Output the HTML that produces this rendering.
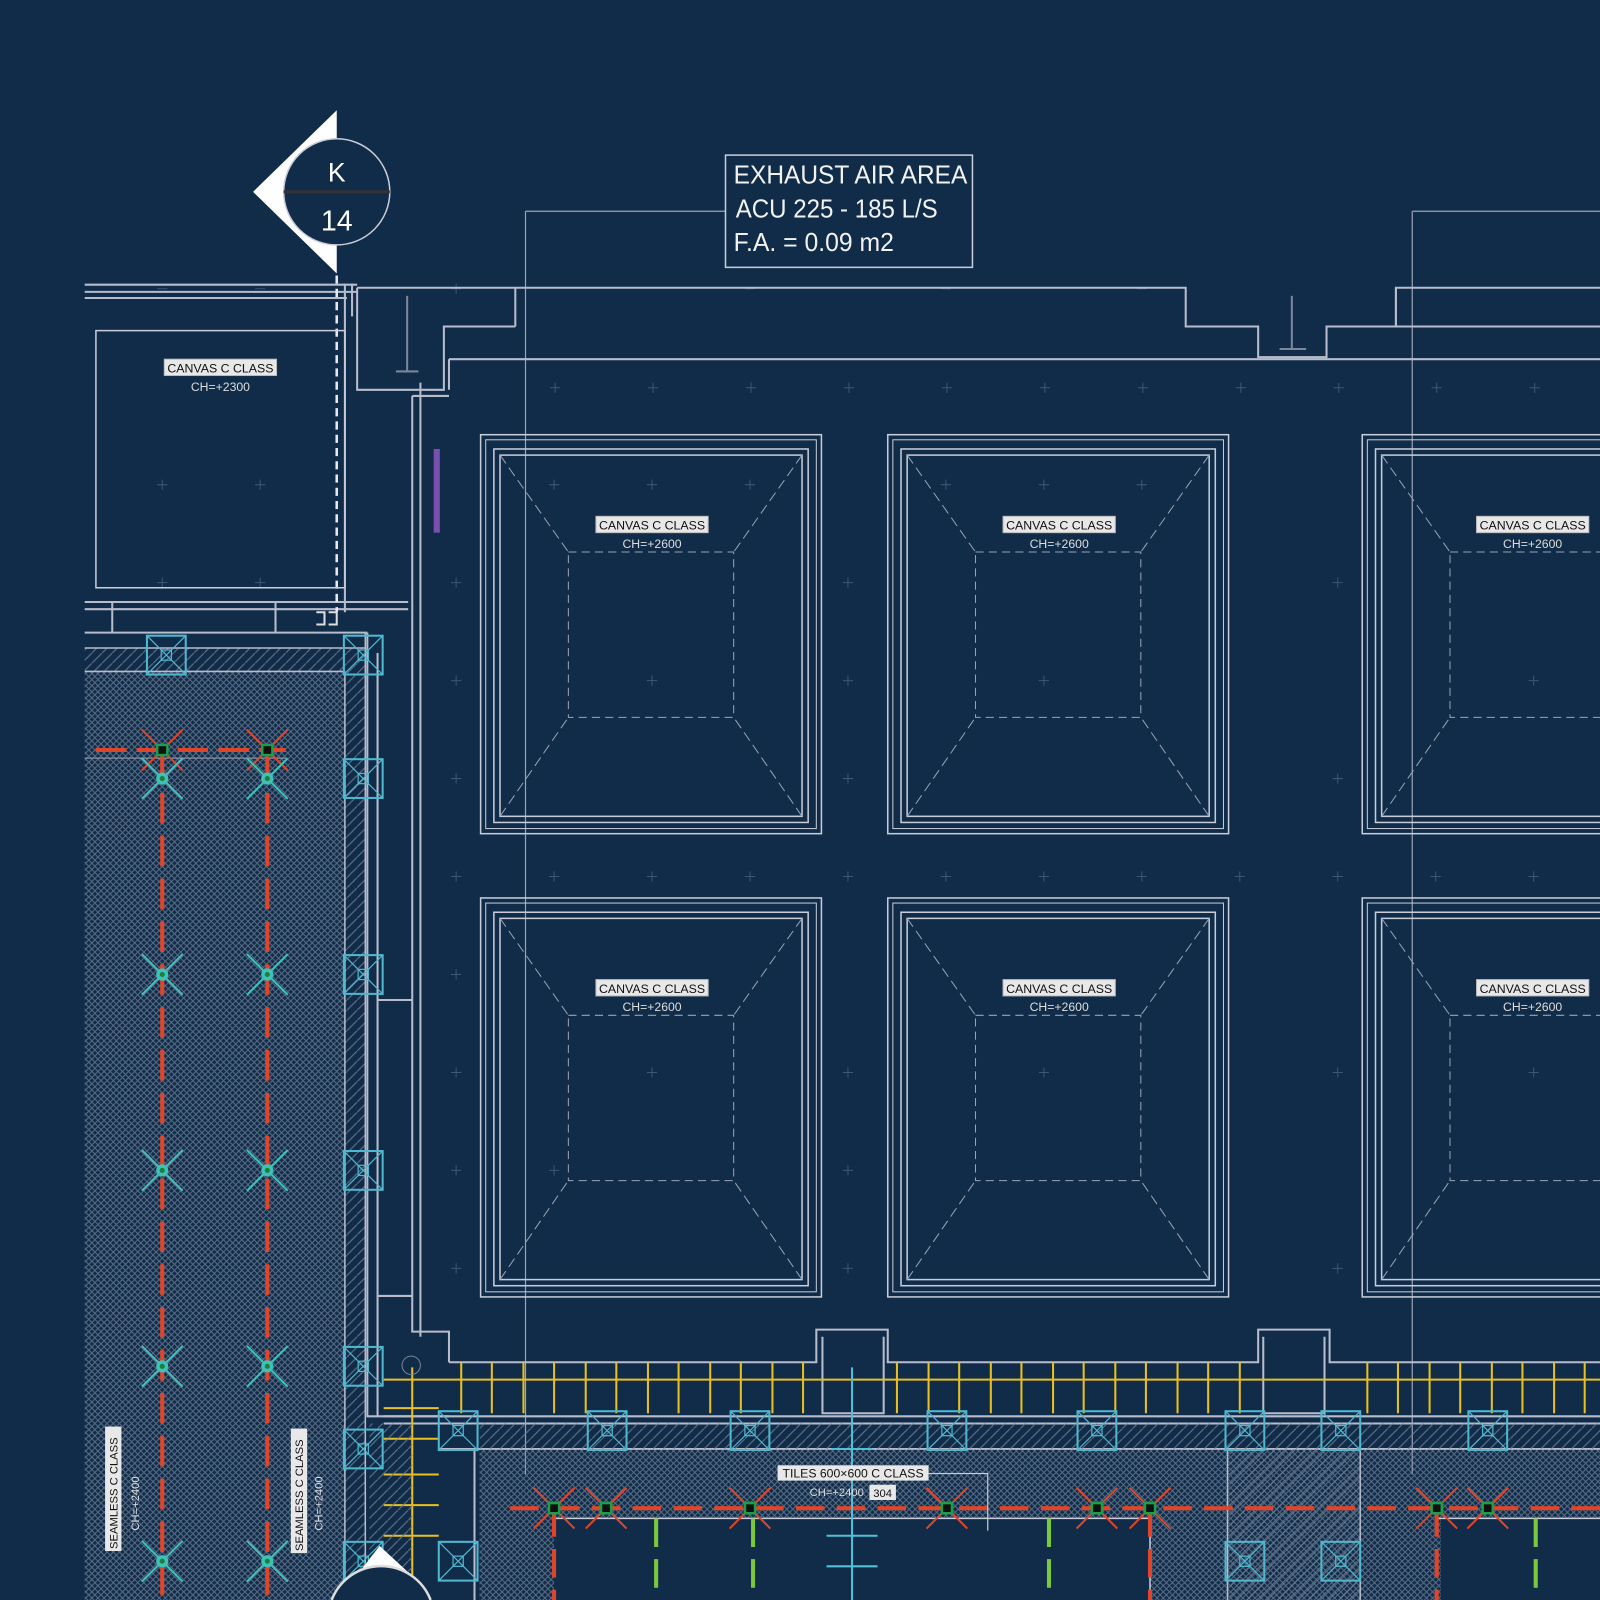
<!DOCTYPE html>
<html><head><meta charset="utf-8"><style>
html,body{margin:0;padding:0;background:#102c49;}
svg{display:block}
text{font-family:"Liberation Sans Narrow","Liberation Sans",sans-serif;}
</style></head><body>
<svg width="1600" height="1600" viewBox="0 0 1568 1568" xmlns="http://www.w3.org/2000/svg">
<defs>
<pattern id="xh" width="6" height="6" patternUnits="userSpaceOnUse">
<path d="M0 0L6 6M6 0L0 6" stroke="#74839a" stroke-width="1" opacity="0.75"/>
</pattern>
<pattern id="dh" width="10" height="10" patternUnits="userSpaceOnUse">
<path d="M0 10L10 0" stroke="#6f7e94" stroke-width="1.2" opacity="0.8"/>
</pattern>
<g id="panel" fill="none" stroke="#c8ccd8">
<rect x="0" y="0" width="334" height="391" stroke-width="1.5"/>
<rect x="5" y="5" width="324" height="381" stroke-width="1"/>
<rect x="13" y="14" width="308" height="366" stroke-width="1.5"/>
<rect x="19" y="20" width="296" height="354" stroke-width="1.5"/>
<rect x="86" y="115" width="162" height="162" stroke="#9aa2b4" stroke-dasharray="8 5"/>
<path d="M19 20L86 115M315 20L248 115M19 374L86 277M315 374L248 277" stroke="#9aa2b4" stroke-dasharray="10 5"/>
</g>
<g id="cbox" fill="none" stroke="#4fb8cf" stroke-width="2">
<rect x="-19" y="-19" width="38" height="38"/>
<path d="M-19 -19L19 19M19 -19L-19 19" stroke-width="1.2"/>
<rect x="-5" y="-5" width="10" height="10" stroke-width="1.2"/>
</g>
<g id="spr">
<path d="M-20 -20L20 20M20 -20L-20 20" stroke="#e0452a" stroke-width="2"/>
<rect x="-5" y="-5" width="10" height="10" fill="#111" stroke="#1e9e4a" stroke-width="2.5"/>
</g>
<g id="cspr">
<path d="M-20 -20L20 20M20 -20L-20 20" stroke="#3fc0b8" stroke-width="2"/>
<circle r="6" fill="#3fc0b8"/><circle r="2.5" fill="#1e7e3a"/>
</g>
</defs>

<g stroke="#3c5674" stroke-width="1">
<path d="M539 380h10M544 375v10M635 380h10M640 375v10M731 380h10M736 375v10M827 380h10M832 375v10M923 380h10M928 375v10M1019 380h10M1024 375v10M1115 380h10M1120 375v10M1211 380h10M1216 375v10M1307 380h10M1312 375v10M1403 380h10M1408 375v10M1499 380h10M1504 375v10"/>
<path d="M442 571h10M447 566v10M442 859h10M447 854v10M442 763h10M447 758v10M442 1051h10M447 1046v10M442 1147h10M447 1142v10M442 1243h10M447 1238v10M442 667h10M447 662v10M442 955h10M447 950v10"/>
<path d="M826 859h10M831 854v10M1210 859h10M1215 854v10M1306 859h10M1311 854v10M538 859h10M543 854v10M634 859h10M639 854v10M730 859h10M735 854v10M922 859h10M927 854v10M1018 859h10M1023 854v10M1114 859h10M1119 854v10M1402 859h10M1407 854v10M1498 859h10M1503 854v10"/>
<path d="M826 571h10M831 566v10M826 667h10M831 662v10M826 763h10M831 758v10M826 1051h10M831 1046v10M826 1147h10M831 1142v10M826 1243h10M831 1238v10M1306 571h10M1311 566v10M1306 763h10M1311 758v10M1306 1051h10M1311 1046v10M1306 1243h10M1311 1238v10"/>
<path d="M154 475h10M159 470v10M250 475h10M255 470v10M154 571h10M159 566v10M250 571h10M255 566v10M154 283h10M250 283h10M442 283h10M447 278v10M730 283h10M922 283h10M1114 283h10"/>
<path d="M538 475h10M543 470v10M634 475h10M639 470v10M730 475h10M735 470v10M922 475h10M927 470v10M1018 475h10M1023 470v10M1114 475h10M1119 470v10M538 1147h10M543 1142v10M634 1051h10M639 1046v10M1018 667h10M1023 662v10M634 667h10M639 662v10M1498 667h10M1503 662v10M1498 1051h10M1503 1046v10M1018 1051h10M1023 1046v10"/>
</g>

<g stroke="#9aa2b4" stroke-width="1.2" fill="none">
<path d="M515 207H711M515 207V1445M1384 207H1568M1384 207V1445"/>
</g>

<g stroke="#b8bccb" stroke-width="2" fill="none">
<path d="M83 279H350M83 286H350M83 292H340"/>
<path d="M345 278V310M338 278V600"/>
<path d="M350 282H505V320M505 282H1162V320H1233V350H1300V320H1368V282H1568"/>
<path d="M1368 282V320H1568"/>
<path d="M350 282V382H435V320H505"/>
<path d="M440 352H1568M440 352V382"/>
<path d="M404 388H440M404 388V1305H440V1335"/>
<path d="M412 375V1310"/>
<path d="M83 590H400M83 597H400"/>
<path d="M270 590V620H360M83 620H360"/>
<path d="M110 590V620"/>
</g>
<path d="M399 290V365M388 364H410M1266 290V342M1254 342H1280" stroke="#7d8599" stroke-width="2"/>
<path d="M330 270V600" stroke="#e8e8ee" stroke-width="2.5" stroke-dasharray="8 5"/>
<path d="M310 600h8v12h-8M322 600h8v12h-8" stroke="#ddd" stroke-width="2" fill="none"/>
<rect x="94" y="324" width="244" height="252" fill="none" stroke="#c8ccd8" stroke-width="1.5"/>
<rect x="425" y="440" width="6" height="82" fill="#7a4fb0"/>

<g stroke="#b8bccb" stroke-width="2" fill="none">
<path d="M360 620V1388H440M370 640V1270H404M370 980H404"/>
<path d="M370 1270V1388"/>
</g>

<path d="M330 108L248 188L330 268Z" fill="#fff"/>
<circle cx="330" cy="188" r="52" fill="#102c49" stroke="#c8ccd8" stroke-width="1.5"/>
<path d="M278 188H382" stroke="#333" stroke-width="3"/>
<text x="330" y="178" font-size="26" fill="#fff" text-anchor="middle">K</text>
<text x="330" y="226" font-size="28" fill="#fff" text-anchor="middle">14</text>

<rect x="711" y="152" width="242" height="110" fill="#102c49" stroke="#c8ccd8" stroke-width="1.5"/>
<text font-size="25" fill="#f2f2f2"><tspan x="719" y="180" textLength="229" lengthAdjust="spacingAndGlyphs">EXHAUST AIR AREA</tspan></text>
<text font-size="25" fill="#f2f2f2"><tspan x="721" y="213" textLength="198" lengthAdjust="spacingAndGlyphs">ACU 225 - 185 L/S</tspan></text>
<text font-size="25" fill="#f2f2f2"><tspan x="719" y="246" textLength="157" lengthAdjust="spacingAndGlyphs">F.A. = 0.09 m2</tspan></text>

<use href="#panel" x="471" y="426"/><use href="#panel" x="870" y="426"/><use href="#panel" x="1335" y="426"/>
<use href="#panel" x="471" y="880"/><use href="#panel" x="870" y="880"/><use href="#panel" x="1335" y="880"/>
<g font-size="12" text-anchor="middle">
<g fill="#e8e8e8" stroke="#bbb"><rect x="584" y="506" width="110" height="16"/><rect x="983" y="506" width="110" height="16"/><rect x="1447" y="506" width="110" height="16"/><rect x="584" y="960" width="110" height="16"/><rect x="983" y="960" width="110" height="16"/><rect x="1447" y="960" width="110" height="16"/><rect x="161" y="352" width="110" height="16"/></g>
<g fill="#111"><text x="639" y="519" textLength="104" lengthAdjust="spacingAndGlyphs">CANVAS C CLASS</text><text x="1038" y="519" textLength="104" lengthAdjust="spacingAndGlyphs">CANVAS C CLASS</text><text x="1502" y="519" textLength="104" lengthAdjust="spacingAndGlyphs">CANVAS C CLASS</text><text x="639" y="973" textLength="104" lengthAdjust="spacingAndGlyphs">CANVAS C CLASS</text><text x="1038" y="973" textLength="104" lengthAdjust="spacingAndGlyphs">CANVAS C CLASS</text><text x="1502" y="973" textLength="104" lengthAdjust="spacingAndGlyphs">CANVAS C CLASS</text><text x="216" y="365" textLength="104" lengthAdjust="spacingAndGlyphs">CANVAS C CLASS</text></g>
<g fill="#ddd"><text x="639" y="537">CH=+2600</text><text x="1038" y="537">CH=+2600</text><text x="1502" y="537">CH=+2600</text><text x="639" y="991">CH=+2600</text><text x="1038" y="991">CH=+2600</text><text x="1502" y="991">CH=+2600</text><text x="216" y="383">CH=+2300</text></g>
</g>

<rect x="83" y="658" width="255" height="910" fill="url(#xh)"/>
<rect x="83" y="635" width="275" height="23" fill="url(#dh)"/>
<rect x="338" y="658" width="20" height="910" fill="url(#dh)"/>
<path d="M83 635H358M83 658H338M338 658V1568M358 620V1568" stroke="#b8bccb" stroke-width="1.5"/>
<path d="M83 743H280" stroke="#9aa2b4" stroke-width="1"/>
<path d="M94 735H280" stroke="#e0452a" stroke-width="4" stroke-dasharray="30 10"/>
<path d="M159 735V1568M262 735V1568" stroke="#e0452a" stroke-width="4" stroke-dasharray="30 12"/>
<use href="#spr" x="159" y="735"/><use href="#spr" x="262" y="735"/>
<use href="#cspr" x="159" y="763"/><use href="#cspr" x="262" y="763"/>
<use href="#cspr" x="159" y="955"/><use href="#cspr" x="262" y="955"/>
<use href="#cspr" x="159" y="1147"/><use href="#cspr" x="262" y="1147"/>
<use href="#cspr" x="159" y="1339"/><use href="#cspr" x="262" y="1339"/>
<use href="#cspr" x="159" y="1530"/><use href="#cspr" x="262" y="1530"/>
<g font-size="11"><rect x="103" y="1398" width="16" height="122" fill="#e8e8e8"/><rect x="285" y="1400" width="16" height="122" fill="#e8e8e8"/>
<text transform="translate(115 1518) rotate(-90)" fill="#111">SEAMLESS C CLASS</text><text transform="translate(297 1520) rotate(-90)" fill="#111">SEAMLESS C CLASS</text>
<text transform="translate(136 1500) rotate(-90)" fill="#ddd">CH=+2400</text><text transform="translate(316 1500) rotate(-90)" fill="#ddd">CH=+2400</text></g>

<g stroke="#b8bccb" stroke-width="2" fill="none">
<path d="M440 1335H800V1303H870V1335H1233V1303H1303V1335H1568"/>
<path d="M806 1310V1385H866V1310M1238 1310V1385H1298V1310"/>
<path d="M376 1388H1568M376 1395H1568"/>
<path d="M430 1420H1568M465 1420V1568"/>
</g>
<path d="M376 1352H1568" stroke="#e8c020" stroke-width="2"/>
<g stroke="#e8c020" stroke-width="2">
<path d="M452 1335V1385M482 1335V1385M513 1335V1385M543 1335V1385M574 1335V1385M604 1335V1385M635 1335V1385M665 1335V1385M696 1335V1385M726 1335V1385M757 1335V1385M787 1335V1385M879 1335V1385M910 1335V1385M940 1335V1385M971 1335V1385M1001 1335V1385M1032 1335V1385M1062 1335V1385M1093 1335V1385M1123 1335V1385M1154 1335V1385M1184 1335V1385M1215 1335V1385M1340 1335V1385M1370 1335V1385M1401 1335V1385M1431 1335V1385M1462 1335V1385M1492 1335V1385M1523 1335V1385M1553 1335V1385"/>
<path d="M404 1340V1568M376 1380H430M376 1410H430M376 1445H430M376 1475H430M376 1505H430"/>
</g>

<rect x="470" y="1395" width="1098" height="25" fill="url(#dh)"/>
<rect x="470" y="1420" width="1098" height="148" fill="url(#xh)"/>
<rect x="362" y="1395" width="42" height="173" fill="url(#dh)"/>
<rect x="1205" y="1420" width="128" height="148" fill="url(#dh)"/>
<path d="M1203 1420V1568M1333 1420V1568" stroke="#b8bccb" stroke-width="1.5"/>
<rect x="543" y="1488" width="584" height="80" fill="#102c49"/>
<rect x="1412" y="1488" width="156" height="80" fill="#102c49"/>
<path d="M1408 1488H1568M543 1488H1127V1568" stroke="#c8ccd8" stroke-width="1.5" fill="none"/>
<path d="M500 1478H1568" stroke="#e0452a" stroke-width="4" stroke-dasharray="28 12"/>
<path d="M543 1478V1568M1127 1478V1568M1408 1478V1568" stroke="#e0452a" stroke-width="4" stroke-dasharray="28 12"/>
<path d="M643 1488V1568M738 1488V1568M1028 1488V1568M1505 1488V1568" stroke="#7cc83c" stroke-width="4" stroke-dasharray="28 12"/>
<path d="M835 1340V1568" stroke="#4fc0d8" stroke-width="2"/>
<path d="M810 1505H860M810 1535H860M815 1420H855" stroke="#4fc0d8" stroke-width="2"/>
<use href="#spr" x="543" y="1478"/><use href="#spr" x="594" y="1478"/><use href="#spr" x="735" y="1478"/><use href="#spr" x="928" y="1478"/><use href="#spr" x="1075" y="1478"/><use href="#spr" x="1127" y="1478"/><use href="#spr" x="1408" y="1478"/><use href="#spr" x="1458" y="1478"/>
<rect x="762" y="1436" width="148" height="15" fill="#e8e8e8"/>
<text x="836" y="1448" font-size="12" fill="#111" text-anchor="middle">TILES 600×600 C CLASS</text>
<text x="820" y="1466" font-size="11" fill="#ddd" text-anchor="middle">CH=+2400</text>
<rect x="852" y="1455" width="26" height="15" fill="#e8e8e8"/><text x="865" y="1467" font-size="11" fill="#111" text-anchor="middle">304</text>
<path d="M910 1444H968V1500" stroke="#c8ccd8" stroke-width="1.2" fill="none"/>
<circle cx="403" cy="1338" r="9" fill="none" stroke="#7d8599"/>

<use href="#cbox" x="163" y="642"/><use href="#cbox" x="356" y="642"/><use href="#cbox" x="356" y="763"/><use href="#cbox" x="356" y="955"/><use href="#cbox" x="356" y="1147"/><use href="#cbox" x="356" y="1339"/><use href="#cbox" x="356" y="1420"/><use href="#cbox" x="356" y="1530"/>
<use href="#cbox" x="449" y="1402"/><use href="#cbox" x="595" y="1402"/><use href="#cbox" x="735" y="1402"/><use href="#cbox" x="928" y="1402"/><use href="#cbox" x="1075" y="1402"/><use href="#cbox" x="1220" y="1402"/><use href="#cbox" x="1314" y="1402"/><use href="#cbox" x="1458" y="1402"/>
<use href="#cbox" x="449" y="1530"/><use href="#cbox" x="1220" y="1530"/><use href="#cbox" x="1314" y="1530"/>

<path d="M372 1515L345 1550L410 1550Z" fill="#fff"/>
<path d="M325 1568A52 52 0 0 1 422 1568" fill="#102c49" stroke="#ddd" stroke-width="2.5"/>
</svg>
</body></html>
